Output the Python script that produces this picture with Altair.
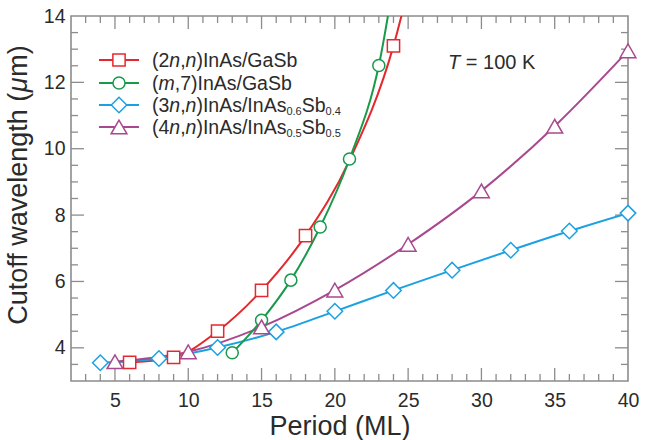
import re
import altair as alt
import pandas as pd

# ---------------- data ----------------
series = ["(2n,n)InAs/GaSb", "(m,7)InAs/GaSb",
          "(3n,n)InAs/InAs0.6Sb0.4", "(4n,n)InAs/InAs0.5Sb0.5"]
legend_markup = ["(2<i>n</i>,<i>n</i>)InAs/GaSb",
                 "(<i>m</i>,7)InAs/GaSb",
                 "(3<i>n</i>,<i>n</i>)InAs/InAs<sub>0.6</sub>Sb<sub>0.4</sub>",
                 "(4<i>n</i>,<i>n</i>)InAs/InAs<sub>0.5</sub>Sb<sub>0.5</sub>"]
colors = ["#e5282d", "#189a4b", "#1ba1e2", "#a8498f"]
shapes = ["square", "circle", "diamond", "triangle-up"]
sizes = [150, 145, 240, 250]

red_x = [6, 9, 12, 15, 18, 24]
red_y = [3.56, 3.71, 4.50, 5.73, 7.38, 13.10]
red_curve_x = [21, 27]          # curve only (no marker drawn)
red_curve_y = [9.65, 19.0]

green_x = [13, 15, 17, 19, 21, 23]
green_y = [3.85, 4.83, 6.04, 7.64, 9.69, 12.51]
green_curve_x = [25]
green_curve_y = [18.0]

blue_x = [4, 8, 12, 16, 20, 24, 28, 32, 36, 40]
blue_y = [3.55, 3.68, 4.01, 4.48, 5.10, 5.73, 6.34, 6.94, 7.52, 8.06]

purple_x = [5, 10, 15, 20, 25, 30, 35, 40]
purple_y = [3.58, 3.88, 4.63, 5.74, 7.12, 8.73, 10.68, 12.95]

x_labels = [5, 10, 15, 20, 25, 30, 35, 40]
y_labels = [4, 6, 8, 10, 12, 14]
x_title = "Period (ML)"
y_title_markup = "Cutoff wavelength (<i>\u03bc</i>m)"
temp_markup = "<i>T</i> = 100 K"

# ---------------- layout ----------------
W, H = 557, 365
FONT = "Liberation Sans"
TXT = "#2b2b2b"
GRID = "#8c8c8c"

marker_pts = []
curve_pts = []
for s, xs_, ys_, cx, cy in [
    (series[0], red_x, red_y, red_curve_x, red_curve_y),
    (series[1], green_x, green_y, green_curve_x, green_curve_y),
    (series[2], blue_x, blue_y, [], []),
    (series[3], purple_x, purple_y, [], []),
]:
    for a, b in zip(xs_, ys_):
        marker_pts.append({"series": s, "period": a, "wl": b})
        curve_pts.append({"series": s, "period": a, "wl": b})
    for a, b in zip(cx, cy):
        curve_pts.append({"series": s, "period": a, "wl": b})
markers = pd.DataFrame(marker_pts)
curves = pd.DataFrame(curve_pts).sort_values(["series", "period"])

xs = alt.Scale(domain=[2, 40], nice=False, zero=False)
ys = alt.Scale(domain=[3, 14], nice=False, zero=False)
cs = alt.Scale(domain=series, range=colors)
ss = alt.Scale(domain=series, range=shapes)
zs = alt.Scale(type="ordinal", domain=series, range=sizes)

ax_x = alt.Axis(values=x_labels, ticks=False, tickSize=0, domain=False, grid=False,
                labelFontSize=19.5, labelPadding=10, labelColor=TXT, labelFont=FONT,
                labelFlush=False, labelOverlap=False, title=None)
ax_y = alt.Axis(values=y_labels, ticks=False, tickSize=0, domain=False, grid=False,
                labelFontSize=19.5, labelPadding=6, labelColor=TXT, labelFont=FONT,
                labelFlush=False, labelOverlap=False, title=None)

lines = alt.Chart(curves).mark_line(interpolate="monotone", clip=True, strokeWidth=2).encode(
    x=alt.X("period:Q", scale=xs, axis=ax_x),
    y=alt.Y("wl:Q", scale=ys, axis=ax_y),
    color=alt.Color("series:N", scale=cs, legend=None),
    detail="series:N",
    order="period:Q",
)

points = alt.Chart(markers).mark_point(filled=False, fill="white", fillOpacity=1, opacity=1,
                                       strokeWidth=1.5).encode(
    x=alt.X("period:Q", scale=xs, axis=ax_x),
    y=alt.Y("wl:Q", scale=ys, axis=ax_y),
    color=alt.Color("series:N", scale=cs, legend=None),
    shape=alt.Shape("series:N", scale=ss, legend=None),
    size=alt.Size("series:N", scale=zs, legend=None),
)

# ---------------- inward ticks on all four sides ----------------
x_major = [5, 10, 15, 20, 25, 30, 35]
x_minor = [v for v in range(3, 40) if v % 5 != 0]
y_major = [4, 6, 8, 10, 12]
y_minor = [v / 2 for v in range(7, 28) if (v / 2) not in (4, 6, 8, 10, 12)]
LONG, SHORT = 13, 7

tick_layers = []
for vals, L in [(x_major, LONG), (x_minor, SHORT)]:
    d = pd.DataFrame({"period": vals})
    base = alt.Chart(d).mark_rule(color=GRID, strokeWidth=1.3)
    tick_layers.append(base.encode(x=alt.X("period:Q", scale=xs, axis=ax_x),
                                   y=alt.value(H), y2=alt.value(H - L)))
    tick_layers.append(base.encode(x=alt.X("period:Q", scale=xs, axis=ax_x),
                                   y=alt.value(0), y2=alt.value(L)))
for vals, L in [(y_major, LONG), (y_minor, SHORT)]:
    d = pd.DataFrame({"wl": vals})
    base = alt.Chart(d).mark_rule(color=GRID, strokeWidth=1.3)
    tick_layers.append(base.encode(y=alt.Y("wl:Q", scale=ys, axis=ax_y),
                                   x=alt.value(0), x2=alt.value(L)))
    tick_layers.append(base.encode(y=alt.Y("wl:Q", scale=ys, axis=ax_y),
                                   x=alt.value(W), x2=alt.value(W - L)))

# ---------------- text helpers ----------------
ADV = {'(': 333, ')': 333, ',': 278, '.': 278, ' ': 278, '/': 278, '=': 584,
       'I': 278, 'A': 667, 'G': 778, 'S': 667, 'T': 611, 'K': 667, 'C': 722,
       'P': 667, 'M': 833, 'L': 556,
       'a': 556, 'b': 556, 'n': 556, 's': 500, 'm': 833, 'u': 556, 't': 278,
       'o': 556, 'f': 278, 'w': 722, 'v': 500, 'e': 556, 'l': 222, 'g': 556,
       'h': 556, 'r': 333, 'i': 222, 'd': 556, '\u03bc': 576}


def tw(s, fs):
    return sum(ADV.get(c, 556) for c in s) * fs / 1000.0


def parse(markup):
    out = []
    for m in re.finditer(r"<i>(.*?)</i>|<sub>(.*?)</sub>|([^<]+)", markup):
        if m.group(1) is not None:
            out.append((m.group(1), "italic"))
        elif m.group(2) is not None:
            out.append((m.group(2), "sub"))
        else:
            out.append((m.group(3), "normal"))
    return out


text_rows = []


def add_run(markup, x0, y0, fs, sub_fs=None, angle=0, sub_drop=2.5):
    pos = 0.0
    for txt, style in parse(markup):
        size = sub_fs if style == "sub" else fs
        lead = len(txt) - len(txt.lstrip(" "))
        pos += tw(" " * lead, size)
        txt = txt.lstrip(" ")
        if angle == 0:
            px, py = x0 + pos, y0 + (sub_drop if style == "sub" else 0)
        else:  # rotated 270: text runs upward
            px, py = x0, y0 - pos
        text_rows.append({"px": px, "py": py, "text": txt,
                          "style": "italic" if style == "italic" else "normal",
                          "fs": size, "ang": angle})
        pos += tw(txt, size)


# legend
LEG_ROWS = [44, 67, 89, 111]
LEG_TEXT_X = 81
for mk, ry in zip(legend_markup, LEG_ROWS):
    add_run(mk, LEG_TEXT_X, ry + 7, 19.5, sub_fs=11)

# T = 100 K
add_run(temp_markup, 377, 53, 20)

# axis titles
add_run(x_title, 269 - tw(x_title, 27) / 2, 419, 27)
ytitle_len = sum(tw(t, 27) for t, _ in parse(y_title_markup))
add_run(y_title_markup, -44, 169 + ytitle_len / 2, 27, angle=270)

texts = pd.DataFrame(text_rows)
text_layers = []
for style in ["normal", "italic"]:
    text_layers.append(
        alt.Chart(texts).transform_filter(alt.datum.style == style)
        .mark_text(align="left", baseline="alphabetic", font=FONT, color=TXT,
                   fontStyle=style)
        .encode(x=alt.X("px:Q", scale=None),
                y=alt.Y("py:Q", scale=None),
                text="text:N",
                size=alt.Size("fs:Q", scale=None, legend=None),
                angle=alt.Angle("ang:Q", scale=None, legend=None))
    )

# legend symbols
leg = pd.DataFrame({"series": series, "my": LEG_ROWS,
                    "lx": [28] * 4, "lx2": [68] * 4, "mx": [48] * 4})
leg_lines = alt.Chart(leg).mark_rule(strokeWidth=2).encode(
    x=alt.X("lx:Q", scale=None), x2="lx2:Q",
    y=alt.Y("my:Q", scale=None),
    color=alt.Color("series:N", scale=cs, legend=None))
leg_pts = alt.Chart(leg).mark_point(filled=False, fill="white", fillOpacity=1, opacity=1,
                                    strokeWidth=1.5).encode(
    x=alt.X("mx:Q", scale=None),
    y=alt.Y("my:Q", scale=None),
    color=alt.Color("series:N", scale=cs, legend=None),
    shape=alt.Shape("series:N", scale=ss, legend=None),
    size=alt.Size("series:N", scale=zs, legend=None))

chart = alt.layer(*tick_layers, lines, points, leg_lines, leg_pts, *text_layers).properties(
    width=W, height=H,
    autosize=alt.AutoSizeParams(type="none"),
    padding={"left": 71, "top": 16, "right": 645 - 71 - W, "bottom": 440 - 16 - H},
    background="white",
).configure_view(stroke=GRID, strokeWidth=1.6)

chart.save("out.html", embed_options={"renderer": "svg", "actions": False})
